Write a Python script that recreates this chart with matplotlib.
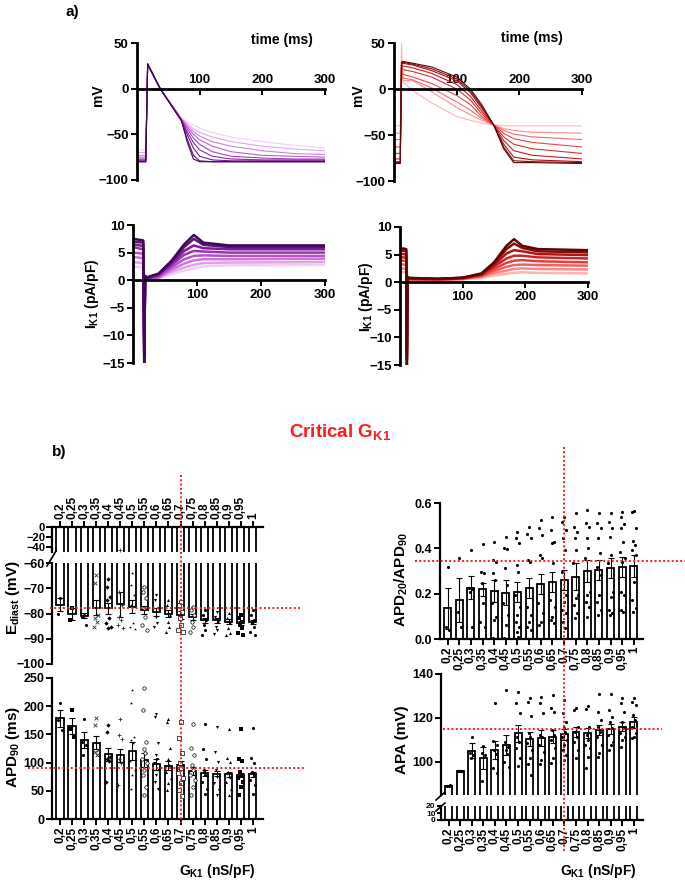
import matplotlib
matplotlib.use('Agg')
import numpy as np
import matplotlib.pyplot as plt
from matplotlib.colors import LinearSegmentedColormap
from matplotlib.lines import Line2D
from matplotlib.transforms import blended_transform_factory

plt.rcParams.update({
    'font.family': ['Liberation Sans', 'DejaVu Sans'],
    'font.weight': 'bold',
    'axes.labelweight': 'bold',
    'mathtext.fontset': 'custom',
    'mathtext.rm': 'Liberation Sans:bold',
    'mathtext.bf': 'Liberation Sans:bold',
    'mathtext.it': 'Liberation Sans:bold',
    'mathtext.default': 'bf',
    'axes.linewidth': 1.6,
    'xtick.major.width': 1.4,
    'ytick.major.width': 1.4,
    'xtick.major.size': 4,
    'ytick.major.size': 4,
})

# ---------------- panel a) traces (sampled from the figure) ----------------
ap_l_t = [0, 14, 17, 37, 71, 80, 90, 100, 120, 150, 200, 250, 300]
ap_l_v = [
    [-67, -67, 26, 0, -32, -36, -40, -43, -48, -53, -58, -62, -65],
    [-70, -70, 26, 0, -33, -38, -44, -48, -53, -58, -63, -66, -68],
    [-73, -73, 26, 0, -33, -40, -47, -52, -58, -63, -68, -71, -72],
    [-75, -75, 27, 0, -34, -42, -50, -56, -63, -69, -73, -74, -75],
    [-77, -77, 27, 0, -34, -44, -54, -61, -69, -74, -76, -77, -77],
    [-78, -78, 27, 0, -35, -47, -59, -67, -74, -77, -78, -78, -78],
    [-79, -79, 27, 0, -35, -50, -65, -74, -78, -79, -79, -79, -79],
    [-80, -80, 27, 0, -35, -55, -73, -79, -80, -80, -80, -80, -80],
    [-80, -80, 27, 0, -35, -58, -77, -80, -80, -80, -80, -80, -80],
]

ap_r_t = [0, 10, 12, 14, 30, 60, 100, 122, 140, 159, 175, 191, 220, 300]
ap_r_v = [
    [-40, -40, 50, 8, -2, -15, -30, -34, -37, -39, -40, -40, -40, -40],
    [-48, -48, 20, 9, 9, -3, -20, -28, -34, -39, -43, -45, -47, -48],
    [-55, -55, 22, 12, 10, 1, -14, -23, -32, -39, -45, -49, -52, -55],
    [-63, -63, 24, 16, 13, 6, -7, -17, -30, -39, -48, -54, -58, -63],
    [-70, -70, 26, 21, 19, 13, 0, -12, -27, -39, -52, -60, -65, -70],
    [-76, -76, 27, 25, 23, 17, 5, -8, -24, -39, -56, -67, -72, -76],
    [-79, -79, 28, 28, 26, 20, 9, -4, -21, -39, -60, -74, -77, -79],
    [-80, -80, 28, 29, 27, 22, 11, -2, -19, -39, -63, -78, -79, -80],
    [-81, -81, 29, 30, 28, 24, 13, 0, -17, -39, -65, -80, -80, -81],
]

ik_l_t = [0, 16, 17.5, 19, 21, 40, 60, 80, 95, 110, 150, 300]
ik_l_v = [
    [2.5, 2.3, -8, 0.1, 0.0, 0.3, 1.1, 1.7, 2.2, 2.5, 2.7, 2.8],
    [3.3, 3.1, -9, 0.2, 0.0, 0.4, 1.5, 2.3, 2.8, 3.1, 3.2, 3.3],
    [4.2, 4.0, -10, 0.3, 0.0, 0.5, 1.9, 3.0, 3.6, 3.8, 3.8, 3.9],
    [5.0, 4.8, -11, 0.4, 0.1, 0.6, 2.3, 3.8, 4.4, 4.5, 4.4, 4.4],
    [6.0, 5.6, -12, 0.5, 0.2, 0.8, 2.7, 4.6, 5.3, 5.2, 5.0, 5.0],
    [6.5, 6.2, -13, 0.6, 0.3, 1.0, 3.0, 5.3, 6.3, 5.8, 5.6, 5.6],
    [7.0, 6.8, -14, 0.7, 0.4, 1.1, 3.3, 6.0, 7.5, 6.4, 6.0, 6.0],
    [7.5, 7.2, -15, 0.8, 0.5, 1.2, 3.5, 6.5, 8.2, 6.8, 6.3, 6.3],
]

ik_r_t = [0, 10, 11, 12, 14, 60, 100, 130, 150, 170, 182, 195, 220, 300]
ik_r_v = [
    [1.9, 1.8, -8, 0.4, 0.4, 0.4, 0.5, 0.8, 1.2, 1.5, 1.7, 1.8, 1.7, 1.6],
    [2.6, 2.4, -9, 0.5, 0.5, 0.4, 0.6, 1.0, 1.6, 2.1, 2.4, 2.5, 2.4, 2.3],
    [3.3, 3.1, -10, 0.5, 0.5, 0.5, 0.6, 1.1, 2.0, 2.8, 3.1, 3.2, 3.1, 3.0],
    [4.0, 3.8, -11, 0.6, 0.6, 0.5, 0.7, 1.2, 2.4, 3.5, 3.9, 4.0, 3.8, 3.6],
    [4.6, 4.4, -12, 0.7, 0.6, 0.5, 0.7, 1.3, 2.8, 4.3, 4.8, 4.8, 4.5, 4.3],
    [5.2, 5.0, -13, 0.8, 0.7, 0.6, 0.8, 1.4, 3.1, 5.2, 5.8, 5.6, 5.1, 4.9],
    [5.8, 5.6, -14, 0.9, 0.7, 0.6, 0.8, 1.5, 3.4, 6.0, 7.0, 6.2, 5.6, 5.4],
    [6.2, 6.0, -15, 1.0, 0.8, 0.6, 0.8, 1.6, 3.6, 6.6, 7.8, 6.6, 6.0, 5.8],
]

# ---------------- panel b) summary data ----------------
gk1 = ['0,2', '0,25', '0,3', '0,35', '0,4', '0,45', '0,5', '0,55', '0,6',
       '0,65', '0,7', '0,75', '0,8', '0,85', '0,9', '0,95', '1']
crit_idx = 10          # G_K1 = 0.7
crit_ediast = -78
crit_apd90 = 90
crit_ratio = 0.345
crit_apa = 115

ediast_mean = [-76.6, -80.3, -80.8, -77.7, -78.0, -76.4, -77.3, -78.6, -79.3,
               -80.0, -80.6, -81.3, -82.6, -82.6, -83.3, -83.9, -83.3]
ediast_sem = [2.6, 2.4, 1.0, 3.0, 2.0, 5.0, 2.5, 1.5, 1.5, 1.5, 1.5, 1.3, 1.0,
              1.0, 1.0, 0.8, 0.9]
ediast_pts = [
    [-74.0, -80.3],
    [-77.9, -82.6],
    [-80.6, -81.3, -84.6],
    [-64.8, -68.0, -80.6, -81.9, -83.3, -85.2],
    [-66.3, -69.4, -73.3, -74.7, -81.9, -83.9, -85.2, -85.9],
    [-45.0, -71.4, -76.6, -81.3, -82.6, -84.6, -85.9],
    [-64.1, -68.7, -72.7, -76.6, -83.9, -85.2, -86.1],
    [-69.4, -71.4, -74.0, -77.9, -81.3, -84.6, -86.5],
    [-72.7, -74.7, -77.9, -81.3, -83.9, -85.2],
    [-74.7, -76.6, -80.6, -83.3, -85.2, -87.2],
    [-75.3, -76.6, -79.3, -81.9, -84.6, -86.5, -87.5],
    [-77.3, -78.6, -80.6, -83.3, -85.2, -87.2],
    [-78.6, -80.6, -82.6, -84.6, -86.5, -88.5],
    [-79.3, -81.3, -83.3, -85.2, -86.5, -88.2],
    [-79.9, -81.9, -83.9, -85.9, -87.8, -88.5],
    [-80.6, -81.9, -83.3, -84.6, -85.9, -87.8, -88.5],
    [-78.6, -80.6, -82.6, -83.9, -85.2, -87.2, -88.5],
]

apd90_mean = [178.5, 165.5, 139.4, 135.3, 114.7, 113.0, 120.6, 104.6, 97.0,
              94.6, 95.8, 85.7, 81.0, 80.4, 79.2, 78.0, 79.2]
apd90_sem = [15, 14, 14, 12, 12, 12, 16, 12, 10, 8, 7, 7, 5, 4, 4, 3, 4]
apd90_pts = [
    [205, 176, 158],
    [193, 160, 145],
    [178, 137, 132, 113],
    [179, 166, 122, 118, 113],
    [167, 155, 110, 106, 102, 65],
    [178, 149, 142, 107, 100, 60],
    [229, 205, 146, 140, 134, 102, 87, 78, 54],
    [233, 193, 137, 124, 117, 107, 99, 87, 78, 57, 43],
    [187, 181, 134, 113, 107, 99, 87, 78, 66, 54],
    [178, 172, 126, 107, 95, 83, 72, 63, 51],
    [172, 143, 117, 99, 90, 81, 72, 63, 51, 40],
    [169, 126, 113, 95, 87, 78, 69, 57, 43],
    [168, 124, 107, 87, 78, 66, 54, 45],
    [163, 118, 101, 87, 75, 63, 51, 43],
    [160, 108, 101, 83, 75, 66, 54, 43],
    [159, 106, 102, 83, 78, 72, 66, 57, 43],
    [161, 108, 99, 83, 78, 69, 60, 44],
]

ratio_mean = [0.135, 0.172, 0.226, 0.219, 0.212, 0.205, 0.209, 0.226, 0.241,
              0.250, 0.260, 0.275, 0.300, 0.304, 0.312, 0.319, 0.323]
ratio_sem = [0.091, 0.096, 0.050, 0.030, 0.048, 0.055, 0.044, 0.045, 0.044,
             0.044, 0.044, 0.060, 0.049, 0.045, 0.044, 0.044, 0.048]
ratio_pts = [
    [0.319, 0.055, 0.040],
    [0.356, 0.121, 0.055],
    [0.393, 0.223, 0.219, 0.209, 0.052],
    [0.418, 0.297, 0.290, 0.246, 0.157, 0.077, 0.055],
    [0.429, 0.349, 0.341, 0.290, 0.260, 0.157, 0.098, 0.083, 0.004],
    [0.451, 0.400, 0.396, 0.312, 0.238, 0.157, 0.106, 0.062, 0.004],
    [0.470, 0.447, 0.422, 0.327, 0.294, 0.194, 0.143, 0.106, 0.077, 0.055, 0.032, 0.010],
    [0.495, 0.463, 0.444, 0.349, 0.341, 0.143, 0.106, 0.077, 0.055, 0.040],
    [0.525, 0.488, 0.459, 0.371, 0.356, 0.157, 0.113, 0.077, 0.062],
    [0.540, 0.481, 0.429, 0.422, 0.334, 0.172, 0.143, 0.098, 0.083, 0.069],
    [0.540, 0.518, 0.481, 0.444, 0.393, 0.297, 0.194, 0.165, 0.128, 0.113, 0.077, 0.047],
    [0.554, 0.495, 0.473, 0.444, 0.393, 0.334, 0.194, 0.179, 0.150, 0.113, 0.091],
    [0.569, 0.510, 0.495, 0.444, 0.400, 0.356, 0.209, 0.194, 0.165, 0.143, 0.098],
    [0.554, 0.510, 0.488, 0.444, 0.378, 0.319, 0.282, 0.194, 0.165, 0.128, 0.106],
    [0.554, 0.518, 0.488, 0.451, 0.371, 0.334, 0.209, 0.187, 0.128, 0.113, 0.106],
    [0.562, 0.540, 0.506, 0.488, 0.429, 0.385, 0.356, 0.341, 0.209, 0.194, 0.128, 0.121],
    [0.565, 0.559, 0.488, 0.432, 0.415, 0.393, 0.371, 0.253, 0.172, 0.135, 0.121],
]

apa_mean = [89.2, 95.9, 105.2, 102.0, 105.5, 107.7, 113.0, 110.5, 110.8,
            111.5, 112.6, 113.8, 113.0, 114.5, 115.0, 116.1, 118.0]
apa_sem = [0.3, 0.3, 3.3, 5.0, 4.0, 4.6, 4.0, 3.3, 3.7, 3.0, 2.6, 2.3, 2.3,
           2.2, 2.2, 2.2, 2.5]
apa_pts = [
    [89.0, 89.2, 89.4],
    [95.8, 96.0],
    [111.5, 104.0, 103.2, 101.7],
    [107.4, 104.0, 103.2, 91.4],
    [126.7, 109.6, 107.7, 105.5, 103.5, 97.1, 94.9],
    [132.7, 109.2, 107.0, 105.5, 103.5, 100.1, 97.9],
    [132.0, 126.8, 122.1, 111.5, 109.2, 106.2, 101.7, 98.3],
    [128.9, 127.4, 121.1, 113.0, 111.5, 108.5, 105.5, 102.0, 98.9, 94.1],
    [129.7, 126.7, 122.1, 112.3, 111.5, 107.7, 104.7, 100.9, 98.9],
    [130.5, 124.4, 122.9, 114.5, 112.3, 110.0, 106.2, 101.7, 99.4],
    [128.2, 122.1, 118.3, 115.3, 113.8, 111.5, 110.0, 107.7, 105.5, 103.2, 100.9],
    [124.7, 123.6, 116.1, 113.8, 111.5, 109.2, 105.5, 101.7],
    [125.6, 124.1, 116.1, 112.3, 110.0, 107.7, 106.2, 102.4, 97.1],
    [130.8, 122.9, 119.1, 116.1, 113.8, 111.5, 107.7, 104.0, 102.4],
    [130.8, 123.6, 120.6, 118.3, 115.3, 112.3, 109.2, 107.7, 105.5],
    [129.2, 126.7, 122.9, 118.3, 115.3, 113.0, 111.5, 110.0, 107.0],
    [128.9, 127.4, 125.9, 121.4, 119.1, 116.1, 113.0, 111.5, 110.8],
]

# marker per G_K1 group in the left column (as in the original)
left_markers = ['o', 's', 'o', 'x', 'D', '+', '*', 'o', 'v', '^', 's', 'o', 'o', 'v', '^', 's', 'o']
left_filled = [1, 1, 1, 0, 1, 0, 1, 0, 1, 1, 0, 0, 1, 1, 1, 1, 1]
JIT = [0.0, -0.14, 0.14, -0.07, 0.07, -0.2, 0.2]

W, H = 685, 883
fig = plt.figure(figsize=(W / 100, H / 100), dpi=100)


def box(l, t, r, b):
    return [l / W, 1 - b / H, (r - l) / W, (b - t) / H]


def ftext(x, y, s, **kw):
    fig.text(x / W, 1 - y / H, s, **kw)


purple = LinearSegmentedColormap.from_list('pu', ['#f3cdf7', '#c766d6', '#8a1fa3', '#3e0758'])
reds = LinearSegmentedColormap.from_list('rd', ['#ffb3b3', '#f05050', '#c01616', '#5e0505'])


def ap_axes(ax):
    ax.set_xlim(0, 300)
    ax.set_ylim(-100, 50)
    ax.spines['right'].set_visible(False)
    ax.spines['bottom'].set_visible(False)
    ax.spines['top'].set_position(('data', 0))
    ax.spines['top'].set_linewidth(2)
    ax.spines['left'].set_linewidth(2)
    ax.xaxis.set_ticks_position('top')
    ax.set_xticks([100, 200, 300])
    ax.set_yticks([50, 0, -50, -100])
    ax.tick_params(axis='x', direction='in', labelsize=9.5, pad=2)
    ax.tick_params(axis='y', labelsize=9.5, pad=2)


def ik_axes(ax):
    ax.set_xlim(0, 300)
    ax.set_ylim(-15, 10)
    ax.spines['right'].set_visible(False)
    ax.spines['top'].set_visible(False)
    ax.spines['bottom'].set_position(('data', 0))
    ax.spines['bottom'].set_linewidth(2)
    ax.spines['left'].set_linewidth(2)
    ax.set_xticks([100, 200, 300])
    ax.set_yticks([10, 5, 0, -5, -10, -15])
    ax.tick_params(labelsize=9.5, pad=2)


# ---- a) ----
ax1 = fig.add_axes(box(137, 43, 325, 180))
for k, v in enumerate(ap_l_v):
    ax1.plot(ap_l_t, v, color=purple(k / (len(ap_l_v) - 1)), lw=0.8)
ap_axes(ax1)

ax2 = fig.add_axes(box(394, 43, 582, 181))
for k, v in enumerate(ap_r_v):
    ax2.plot(ap_r_t, v, color=reds(k / (len(ap_r_v) - 1)), lw=0.8)
ap_axes(ax2)

ax3 = fig.add_axes(box(133, 225, 325, 363))
for k, v in enumerate(ik_l_v):
    ax3.plot(ik_l_t, v, color=purple(k / (len(ik_l_v) - 1)), lw=1.8)
ik_axes(ax3)

ax4 = fig.add_axes(box(400, 227, 588, 365))
for k, v in enumerate(ik_r_v):
    ax4.plot(ik_r_t, v, color=reds(k / (len(ik_r_v) - 1)), lw=1.8)
ik_axes(ax4)

ftext(98, 95, 'mV', rotation=90, ha='center', va='center', fontsize=10)
ftext(358, 95, 'mV', rotation=90, ha='center', va='center', fontsize=10)
ftext(282, 40, 'time (ms)', ha='center', va='center', fontsize=10)
ftext(532, 38, 'time (ms)', ha='center', va='center', fontsize=10)
ftext(92, 294, 'I$_{K1}$ (pA/pF)', rotation=90, ha='center', va='center', fontsize=10)
ftext(366, 297, 'I$_{K1}$ (pA/pF)', rotation=90, ha='center', va='center', fontsize=10)
ftext(72, 12, 'a)', ha='center', va='center', fontsize=11)
ftext(59, 452, 'b)', ha='center', va='center', fontsize=11)
ftext(340, 432, 'Critical G$_{K1}$', ha='center', va='center', fontsize=13.5, color='#ff1a1a')


# ---- b) ----
def bars(ax, means, sems, pts, markers=None, filled=None):
    x = np.arange(len(means))
    ax.bar(x, means, width=0.6, color='white', edgecolor='black', linewidth=1.3, zorder=2)
    ax.errorbar(x, means, yerr=sems, fmt='none', ecolor='black', elinewidth=0.8,
                capsize=2, capthick=0.8, zorder=3)
    for i, vals in enumerate(pts):
        xs = [i + JIT[k % len(JIT)] for k in range(len(vals))]
        m = markers[i] if markers else 'o'
        f = filled[i] if filled else 1
        if m in ('x', '+'):
            ax.scatter(xs, vals, s=7, marker=m, color='#333333', linewidths=0.6, zorder=4)
        elif f:
            ax.scatter(xs, vals, s=5, marker=m, color='black', linewidths=0, zorder=4)
        else:
            ax.scatter(xs, vals, s=6, marker=m, facecolor='white', edgecolor='black',
                       linewidths=0.5, zorder=4)


def style(ax, show_left=True, show_bottom=False, show_top=False):
    for s in ['right', 'top', 'bottom', 'left']:
        ax.spines[s].set_visible(False)
    if show_left:
        ax.spines['left'].set_visible(True)
    if show_bottom:
        ax.spines['bottom'].set_visible(True)
    if show_top:
        ax.spines['top'].set_visible(True)
    ax.tick_params(labelsize=9, pad=1.5)


xl_left = (-0.67, 16.85)
xl_right = (-0.65, 16.78)
cats = np.arange(len(gk1))

ae1 = fig.add_axes(box(52, 527, 263, 552))
bars(ae1, ediast_mean, ediast_sem, ediast_pts, left_markers, left_filled)
ae1.set_xlim(*xl_left)
ae1.set_ylim(-50, 0)
ae1.set_yticks([0, -20, -40])
style(ae1, show_top=True)
ae1.tick_params(axis='y', labelsize=8, pad=1)
ae1.xaxis.tick_top()
ae1.set_xticks(cats)
ae1.set_xticklabels(gk1, rotation=90, fontsize=8.5)

ae2 = fig.add_axes(box(52, 563, 263, 664))
bars(ae2, ediast_mean, ediast_sem, ediast_pts, left_markers, left_filled)
ae2.set_xlim(*xl_left)
ae2.set_ylim(-100, -60)
ae2.set_yticks([-60, -70, -80, -90, -100])
style(ae2)
ae2.set_xticks([])

aa = fig.add_axes(box(52, 678, 263, 819))
bars(aa, apd90_mean, apd90_sem, apd90_pts, left_markers, left_filled)
aa.set_xlim(*xl_left)
aa.set_ylim(0, 250)
aa.set_yticks([0, 50, 100, 150, 200, 250])
style(aa, show_bottom=True)
aa.set_xticks(cats)
aa.set_xticklabels(gk1, rotation=90, fontsize=8.5)

ar = fig.add_axes(box(440, 503, 643, 639))
bars(ar, ratio_mean, ratio_sem, ratio_pts)
ar.set_xlim(*xl_right)
ar.set_ylim(0, 0.6)
ar.set_yticks([0.0, 0.2, 0.4, 0.6])
ar.set_yticklabels(['0.0', '0.2', '0.4', '0.6'])
style(ar, show_bottom=True)
ar.set_xticks(cats)
ar.set_xticklabels(gk1, rotation=90, fontsize=8.5)

ap1 = fig.add_axes(box(441, 674, 643, 795))
bars(ap1, apa_mean, apa_sem, apa_pts)
ap1.set_xlim(*xl_right)
ap1.set_ylim(85, 140)
ap1.set_yticks([100, 120, 140])
style(ap1)
ap1.set_xticks([])

ap2 = fig.add_axes(box(441, 806, 643, 820))
bars(ap2, apa_mean, apa_sem, apa_pts)
ap2.set_xlim(*xl_right)
ap2.set_ylim(0, 20)
ap2.set_yticks([0, 10, 20])
style(ap2, show_bottom=True)
ap2.tick_params(axis='y', labelsize=6, pad=1, length=3)
ap2.set_xticks(cats)
ap2.set_xticklabels(gk1, rotation=90, fontsize=8.5)

# break marks
for (x0, y0, x1, y1) in [(47, 566, 56, 551), (436, 800, 445, 792), (436, 811, 445, 803)]:
    fig.add_artist(Line2D([x0 / W, x1 / W], [1 - y0 / H, 1 - y1 / H], color='black', lw=1.2))

# axis labels
ftext(13, 597, 'E$_{diast}$ (mV)', rotation=90, ha='center', va='center', fontsize=11)
ftext(13, 747, 'APD$_{90}$ (ms)', rotation=90, ha='center', va='center', fontsize=11)
ftext(401, 580, 'APD$_{20}$/APD$_{90}$', rotation=90, ha='center', va='center', fontsize=11)
ftext(402, 740, 'APA (mV)', rotation=90, ha='center', va='center', fontsize=11)
ftext(217, 871, 'G$_{K1}$ (nS/pF)', ha='center', va='center', fontsize=10)
ftext(598, 871, 'G$_{K1}$ (nS/pF)', ha='center', va='center', fontsize=10)

# critical G_K1 guide lines
red_kw = dict(color='#ff1a1a', lw=1.4, ls=(0, (1, 1.2)), zorder=6)
tv = blended_transform_factory(aa.transData, fig.transFigure)
fig.add_artist(Line2D([crit_idx, crit_idx], [1 - 475 / H, 1 - 823 / H], transform=tv, **red_kw))
tv = blended_transform_factory(ar.transData, fig.transFigure)
fig.add_artist(Line2D([crit_idx, crit_idx], [1 - 447 / H, 1 - 853 / H], transform=tv, **red_kw))
th = blended_transform_factory(fig.transFigure, ae2.transData)
fig.add_artist(Line2D([50 / W, 300 / W], [crit_ediast, crit_ediast], transform=th, **red_kw))
th = blended_transform_factory(fig.transFigure, aa.transData)
fig.add_artist(Line2D([28 / W, 305 / W], [crit_apd90, crit_apd90], transform=th, **red_kw))
th = blended_transform_factory(fig.transFigure, ar.transData)
fig.add_artist(Line2D([415 / W, 685 / W], [crit_ratio, crit_ratio], transform=th, **red_kw))
th = blended_transform_factory(fig.transFigure, ap1.transData)
fig.add_artist(Line2D([443 / W, 662 / W], [crit_apa, crit_apa], transform=th, **red_kw))

fig.savefig('out.png', dpi=100)
